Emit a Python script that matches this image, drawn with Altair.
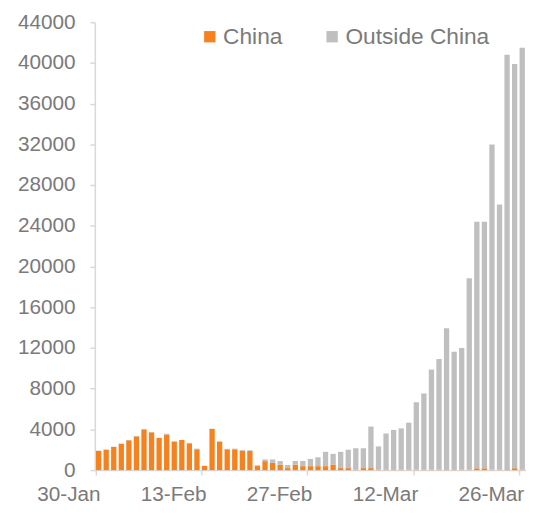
import altair as alt
import pandas as pd

# Daily new cases, 30-Jan .. 26-Mar (57 days)
china = [1890, 2000, 2280, 2570, 2930, 3320, 4000, 3710, 3150, 3500,
         2800, 2960, 2630, 2050, 420, 4050, 2800, 2050, 2050, 1920,
         1880, 400, 880, 710, 540, 200, 540, 390, 390, 390,
         390, 550, 200, 200, 60, 200, 200, 30, 20, 20,
         30, 30, 40, 40, 30, 30, 20, 20, 40, 60,
         180, 180, 50, 60, 80, 190, 60]
outside = [20, 30, 20, 40, 30, 30, 40, 30, 20, 80,
           40, 10, 50, 60, 10, 20, 30, 40, 60, 50,
           70, 80, 170, 340, 350, 300, 360, 510, 710, 870,
           1410, 1050, 1600, 1800, 2090, 1950, 4080, 2300, 3580, 3930,
           4070, 4630, 6630, 7490, 9850, 10880, 13910, 11610, 11960, 18780,
           24220, 24220, 31940, 26020, 40720, 39710, 41440]
dates = [d.strftime("%-d-%b") for d in pd.date_range("2020-01-30", periods=57)]
tick_labels = ["30-Jan", "13-Feb", "27-Feb", "12-Mar", "26-Mar"]
series = ["China", "Outside China"]
colors = ["#F5821F", "#BFBFBF"]

rows = []
for i, d in enumerate(dates):
    rows.append({"date": d, "series": series[0], "value": china[i], "ord": 0})
    rows.append({"date": d, "series": series[1], "value": outside[i], "ord": 1})
df = pd.DataFrame(rows)

FONT = "Liberation Sans"
TXT = "#7a7a7a"
AX = "#d9d9d9"

chart = alt.Chart(df).mark_bar().encode(
    x=alt.X("date:O", sort=dates, title=None,
            scale=alt.Scale(paddingInner=0.3, paddingOuter=0.15),
            axis=alt.Axis(values=tick_labels, bandPosition=0, labelAngle=0,
                          labelAlign="right", labelOffset=2, labelPadding=9,
                          labelFontSize=21, labelFont=FONT, labelColor=TXT,
                          tickSize=5, tickColor=AX, tickWidth=1.5,
                          domainColor=AX, domainWidth=1.5)),
    y=alt.Y("value:Q", stack="zero", title=None,
            scale=alt.Scale(domain=[0, 44000], nice=False),
            axis=alt.Axis(values=list(range(0, 44001, 4000)), grid=False, format="d",
                          labelFontSize=21, labelFont=FONT, labelColor=TXT,
                          labelPadding=15, tickSize=5, tickColor=AX, tickWidth=1.5,
                          domainColor=AX, domainWidth=1.5)),
    color=alt.Color("series:N", scale=alt.Scale(domain=series, range=colors),
                    legend=alt.Legend(title=None, orient="none", direction="horizontal",
                                      legendX=105, legendY=3, padding=0,
                                      symbolType="square", symbolSize=132,
                                      symbolStrokeWidth=0,
                                      labelFontSize=23, labelFont=FONT, labelColor=TXT,
                                      labelOffset=2, columnPadding=38)),
    order=alt.Order("ord:Q", sort="ascending"),
).properties(
    width=437, height=454,
    autosize=alt.AutoSizeParams(type="none"),
    padding={"left": 88, "top": 11, "right": 0, "bottom": 34},
).configure_view(stroke=None)

chart.save("out.html", embed_options={"renderer": "svg", "actions": False})
